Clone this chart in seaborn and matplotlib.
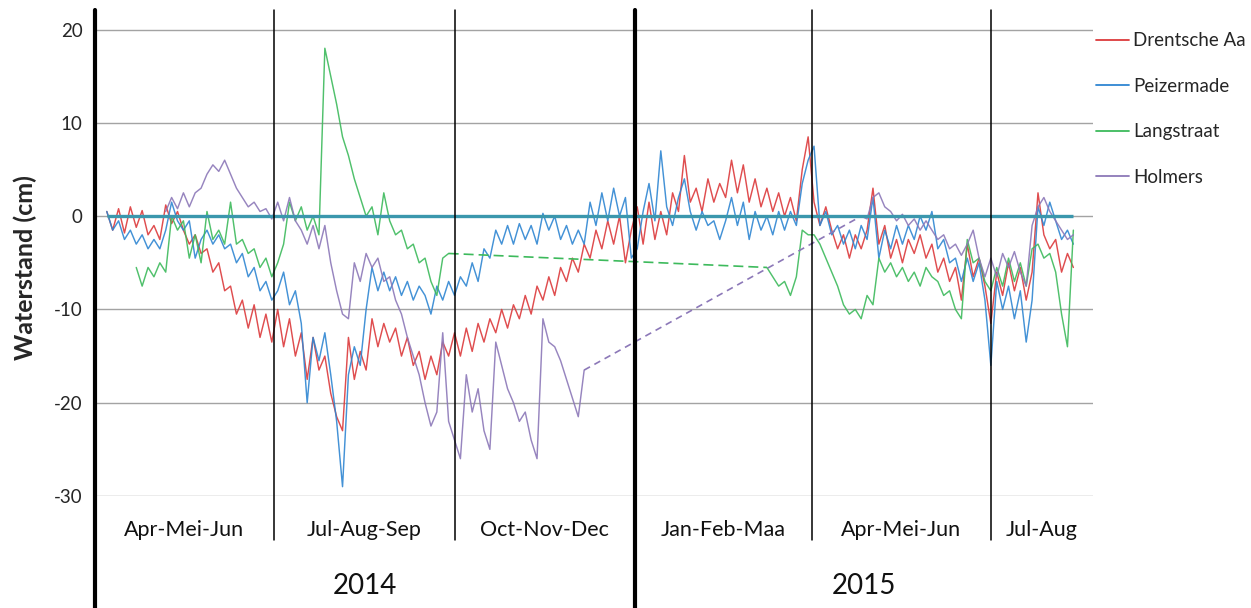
import numpy as np
import pandas as pd
import seaborn as sns
import matplotlib.pyplot as plt
import matplotlib.transforms as mtransforms
from matplotlib.lines import Line2D

nan = np.nan

# meetmomenten: elke 3 dagen, 7 apr 2014 t/m 12 aug 2015
datums = pd.date_range("2014-04-07", periods=165, freq="3D")

drentsche_aa = [
    # apr-jun 2014
    0.5, -1.5, 0.8, -1.8, 1.0, -1.2, 0.6, -2.0, -1.0, -2.5,
    1.2, -0.8, 0.5, -1.5, -3.0, -2.0, -4.0, -3.5, -6.0, -5.0,
    -8.0, -7.5, -10.5, -9.0, -12.0, -9.5, -13.0, -10.5, -13.5,
    # jul-sep 2014
    -10.0, -14.0, -11.0, -15.0, -12.5, -17.5, -13.0, -16.5, -15.0, -19.0,
    -21.5, -23.0, -13.0, -17.5, -14.5, -16.5, -11.0, -14.0, -11.5, -13.5,
    -12.0, -15.0, -13.0, -16.0, -14.5, -17.5, -15.0, -17.0, -13.5, -15.0,
    # okt-dec 2014
    -12.5, -15.0, -12.0, -14.5, -11.5, -13.5, -11.0, -12.5, -10.0, -12.0,
    -9.5, -11.0, -8.5, -10.5, -7.5, -9.0, -6.5, -8.5, -5.5, -7.0,
    -4.5, -6.0, -3.0, -4.5, -1.5, -3.5, -0.5, -3.0, 0.0, -5.0, -1.5,
    # jan-mrt 2015
    1.0, -3.0, 1.5, -2.5, 0.5, -2.0, 2.5, 0.5, 6.5, 1.5,
    3.0, 0.5, 4.0, 1.5, 3.5, 2.0, 6.0, 2.5, 5.5, 1.5,
    4.0, 1.0, 3.0, 0.5, 2.5, 0.0, 2.0, -0.5, 5.0, 8.5,
    # apr-jun 2015
    1.5, -1.0, 1.0, -1.5, -3.5, -2.0, -4.5, -2.0, -3.5, -1.5,
    3.0, -3.0, -1.0, -4.5, -2.5, -5.0, -2.5, -4.0, -2.0, -4.5,
    -3.0, -6.0, -4.5, -7.0, -5.5, -9.0, -3.0, -6.5, -4.5, -7.5,
    # jul-aug 2015
    -11.5, -6.0, -8.5, -5.0, -8.0, -5.5, -9.0, -6.0, 2.5, -2.0,
    -3.5, -2.5, -6.0, -4.0, -5.5,
]

peizermade = [
    # apr-jun 2014
    0.5, -1.5, -0.5, -2.5, -1.5, -3.0, -2.0, -3.5, -2.5, -3.5,
    -1.5, 1.5, -0.5, -1.5, -0.5, -4.5, -2.5, -1.5, -3.0, -2.0,
    -3.5, -3.0, -5.0, -4.0, -6.5, -5.5, -8.0, -7.0, -9.0,
    # jul-sep 2014
    -8.0, -6.0, -9.5, -8.0, -11.5, -20.0, -13.0, -15.5, -12.5, -17.0,
    -22.0, -29.0, -17.0, -14.0, -16.0, -10.0, -5.5, -8.0, -6.0, -8.0,
    -6.5, -8.5, -7.0, -9.0, -7.5, -8.5, -10.5, -7.5, -9.0, -7.0,
    # okt-dec 2014
    -8.5, -6.5, -7.5, -5.0, -7.0, -3.5, -4.5, -1.5, -3.0, -1.0,
    -3.0, -0.8, -2.5, -1.0, -3.0, 0.3, -1.5, 0.0, -2.5, -1.0,
    -3.0, -1.5, -3.0, 1.5, -1.0, 2.5, -0.5, 3.0, 0.0, 2.0, -4.5,
    # jan-mrt 2015
    -3.5, 0.5, 3.5, -0.5, 7.0, 1.0, -1.0, 2.0, 4.0, 0.5,
    -1.5, 0.5, -1.0, -0.5, -2.5, -0.5, 2.0, -1.0, 1.5, -2.5,
    0.5, -1.5, 0.0, -2.0, 0.5, -1.5, 0.5, -1.0, 3.5, 6.0,
    # apr-jun 2015
    7.5, -1.0, 0.5, -2.0, -1.0, -3.0, -1.5, -3.5, -1.0, -2.5,
    2.0, -4.5, -1.5, -3.5, -1.0, -3.0, -1.0, -2.5, 0.0, -1.5,
    0.5, -3.5, -2.5, -5.0, -4.5, -7.0, -4.5, -7.0, -5.0, -9.0,
    # jul-aug 2015
    -16.0, -7.0, -10.0, -7.5, -11.0, -8.0, -13.5, -9.0, 1.0, -1.0,
    1.5, -0.5, -2.5, -1.5, -3.0,
]

langstraat = [
    # apr-jun 2014
    nan, nan, nan, nan, nan, -5.5, -7.5, -5.5, -6.5, -5.0,
    -6.0, 0.0, -1.5, -0.5, -4.5, -2.0, -5.0, 0.5, -2.5, -1.5,
    -3.0, 1.5, -3.0, -2.5, -4.0, -3.5, -5.5, -4.5, -6.5,
    # jul-sep 2014
    -5.0, -3.0, 1.5, -0.5, 1.0, -1.5, 0.0, -2.0, 18.0, 15.0,
    12.0, 8.5, 6.5, 4.0, 2.0, 0.0, 1.0, -2.0, 2.5, -0.5,
    -2.0, -1.5, -3.5, -3.0, -5.0, -4.5, -7.0, -8.5, -4.5, -4.0,
    # okt-dec 2014
    nan, nan, nan, nan, nan, nan, nan, nan, nan, nan,
    nan, nan, nan, nan, nan, nan, nan, nan, nan, nan,
    nan, nan, nan, nan, nan, nan, nan, nan, nan, nan, nan,
    # jan-mrt 2015
    nan, nan, nan, nan, nan, nan, nan, nan, nan, nan,
    nan, nan, nan, nan, nan, nan, nan, nan, nan, nan,
    nan, nan, -5.5, -6.5, -7.5, -7.0, -8.5, -6.5, -1.5, -2.0,
    # apr-jun 2015
    -2.0, -3.0, -4.5, -6.0, -7.5, -9.5, -10.5, -10.0, -11.0, -8.5,
    -9.5, -4.5, -6.0, -5.0, -6.5, -5.5, -7.0, -6.0, -7.5, -5.5,
    -6.5, -7.0, -8.5, -8.0, -10.0, -11.0, -2.5, -5.0, -4.5, -7.0,
    # jul-aug 2015
    -8.0, -5.5, -7.5, -4.5, -7.0, -5.0, -7.5, -3.5, -3.0, -4.5,
    -4.0, -6.0, -10.5, -14.0, -1.5,
]

holmers = [
    # apr-jun 2014
    nan, nan, nan, nan, nan, nan, nan, nan, nan, nan,
    0.5, 2.0, 0.8, 2.5, 1.0, 2.5, 3.0, 4.5, 5.5, 4.8,
    6.0, 4.5, 3.0, 2.0, 1.0, 1.5, 0.5, 0.8, -0.3,
    # jul-sep 2014
    1.5, -0.5, 2.0, -0.5, -1.5, -3.0, -1.0, -3.5, -1.0, -5.0,
    -8.0, -10.5, -11.0, -5.0, -7.0, -4.0, -5.5, -4.5, -7.0, -6.5,
    -9.0, -10.5, -13.0, -15.0, -17.0, -20.0, -22.5, -21.0, -12.5, -22.0,
    # okt-dec 2014
    -24.0, -26.0, -17.0, -21.0, -18.5, -23.0, -25.0, -13.5, -16.0, -18.5,
    -20.0, -22.0, -21.0, -24.0, -26.0, -11.0, -13.5, -14.0, -15.5, -17.5,
    -19.5, -21.5, -16.5, nan, nan, nan, nan, nan, nan, nan, nan,
    # jan-mrt 2015
    nan, nan, nan, nan, nan, nan, nan, nan, nan, nan,
    nan, nan, nan, nan, nan, nan, nan, nan, nan, nan,
    nan, nan, nan, nan, nan, nan, nan, nan, nan, nan,
    # apr-jun 2015
    nan, nan, nan, nan, nan, nan, nan, nan, 0.0, -0.3,
    2.0, 2.5, 1.0, 0.5, -0.5, 0.2, -1.0, -0.3, -1.5, -0.5,
    -1.5, -2.5, -2.0, -3.5, -3.0, -4.2, -3.0, -1.5, -4.5, -6.5,
    # jul-aug 2015
    -4.5, -6.5, -4.0, -5.5, -3.8, -6.0, -7.5, -1.0, 1.0, 2.0,
    0.5, -0.5, -1.5, -2.5, -2.0,
]

locaties = ["Drentsche Aa", "Peizermade", "Langstraat", "Holmers"]
reeksen = [drentsche_aa, peizermade, langstraat, holmers]
kleuren = ["#dc3a3c", "#2f86d2", "#3dba5c", "#8c78b8"]
streepjes = [None, None, (6, 3), (4, 3)]

kwartaal_grenzen = pd.to_datetime(["2014-04-01", "2014-07-01", "2014-10-01",
                                   "2015-01-01", "2015-04-01", "2015-07-01"])
kwartaal_labels = ["Apr-Mei-Jun", "Jul-Aug-Sep", "Oct-Nov-Dec",
                   "Jan-Feb-Maa", "Apr-Mei-Jun", "Jul-Aug"]
jaar_grenzen = pd.to_datetime(["2014-04-01", "2015-01-01"])
jaar_labels = ["2014", "2015"]
x_einde = pd.Timestamp("2015-08-22")
y_ticks = [20, 10, 0, -10, -20, -30]
y_ticklabels = ["20", "10", "0", "-10", "-20", "-30"]

# lange tabel, met een segment-nummer zodat gaten niet worden verbonden
frames = []
for naam, waarden in zip(locaties, reeksen):
    s = pd.Series(waarden, dtype=float)
    frames.append(pd.DataFrame({
        "datum": datums, "waterstand": s, "locatie": naam,
        "segment": naam + "_" + s.isna().cumsum().astype(str),
    }))
df = pd.concat(frames, ignore_index=True)
df_plot = df.dropna(subset=["waterstand"])

sns.set_theme(style="white")
plt.rcParams["font.family"] = ["Lato", "DejaVu Sans"]
plt.rcParams["axes.unicode_minus"] = False

W, H = 1251, 608
fig = plt.figure(figsize=(W / 100, H / 100), dpi=100)
ax = fig.add_axes([95 / W, 1 - 496 / H, 998 / W, 486 / H])

sns.lineplot(data=df_plot, x="datum", y="waterstand", hue="locatie",
             hue_order=locaties, palette=dict(zip(locaties, kleuren)),
             units="segment", estimator=None, sort=False, lw=1.05,
             alpha=0.9, legend=False, ax=ax, zorder=3)

# gestippelde verbinding over de gaten in de meetreeks
for naam, kleur, dash in zip(locaties, kleuren, streepjes):
    sub = df[df["locatie"] == naam].reset_index(drop=True)
    geldig = np.where(sub["waterstand"].notna())[0]
    for a, b in zip(geldig[:-1], geldig[1:]):
        if b - a > 1:
            ax.plot([sub["datum"][a], sub["datum"][b]],
                    [sub["waterstand"][a], sub["waterstand"][b]],
                    color=kleur, lw=1.2, dashes=dash, zorder=3)

# nullijn
ax.hlines(0, datums.min(), datums.max(), color="#3b97ad", lw=2.4, zorder=4)

ax.set_xlim(kwartaal_grenzen[0], x_einde)
ax.set_ylim(-30, 22.1)
ax.set_yticks(y_ticks)
ax.set_yticklabels(y_ticklabels, fontsize=13.5)
ax.set_xticks([])
ax.tick_params(axis="y", length=0, pad=9)
ax.grid(axis="y", color="#a3a3a3", lw=1.0)
ax.grid(axis="x", visible=False)
for sp in ax.spines.values():
    sp.set_visible(False)
ax.set_xlabel("")
ax.set_ylabel("Waterstand (cm)", fontsize=18, fontweight="bold")
ax.yaxis.set_label_coords(-0.058, 0.47)

# scheidingslijnen kwartalen en jaren
for g in kwartaal_grenzen:
    if g in jaar_grenzen:
        ax.axvline(g, ymin=-0.231, ymax=1, color="black", lw=3.0,
                   clip_on=False, zorder=5)
    else:
        ax.axvline(g, ymin=-0.09, ymax=1, color="black", lw=1.1,
                   clip_on=False, zorder=5)

trans = mtransforms.blended_transform_factory(ax.transData, ax.transAxes)
grenzen = list(kwartaal_grenzen) + [x_einde]
for lab, a, b in zip(kwartaal_labels, grenzen[:-1], grenzen[1:]):
    ax.text(a + (b - a) / 2, -0.07, lab, transform=trans, ha="center",
            va="center", fontsize=15.5, color="#111111")
jgrenzen = list(jaar_grenzen) + [x_einde]
for lab, a, b in zip(jaar_labels, jgrenzen[:-1], jgrenzen[1:]):
    ax.text(a + (b - a) / 2, -0.185, lab, transform=trans, ha="center",
            va="center", fontsize=20, color="#111111")

handles = [Line2D([], [], color=k, lw=1.3) for k in kleuren]
ax.legend(handles, locaties, loc="upper left", bbox_to_anchor=(1.003, 0.954),
          frameon=False, fontsize=13.5, handlelength=1.75, handletextpad=0.25,
          labelspacing=1.52, borderpad=0, borderaxespad=0)

fig.savefig("out.png", dpi=100)
